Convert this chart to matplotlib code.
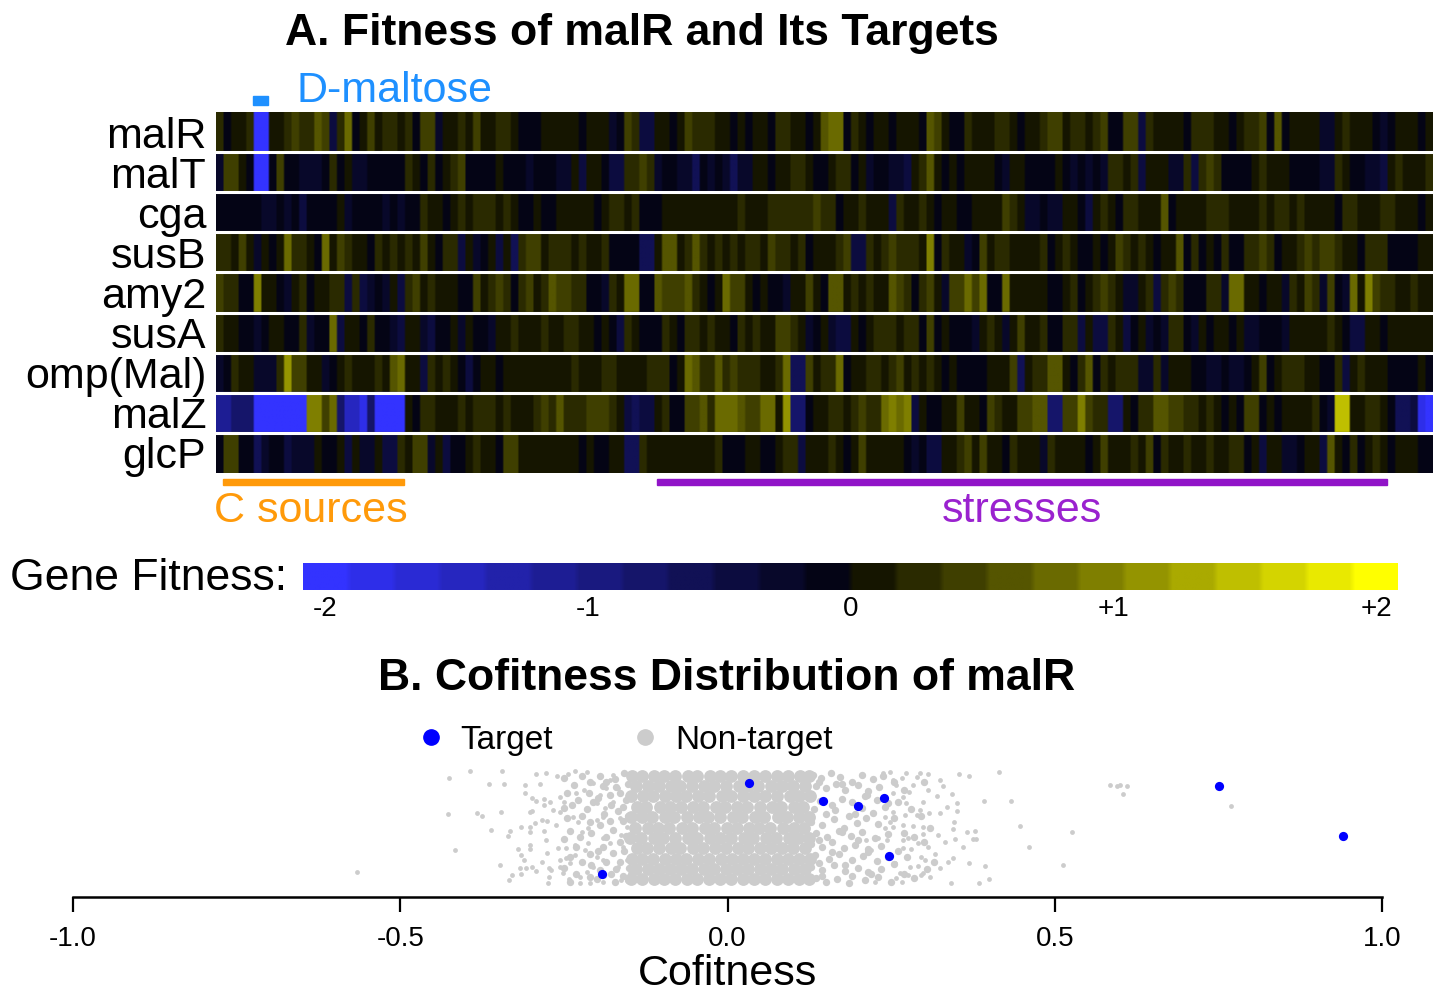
import matplotlib
matplotlib.use('Agg')
import matplotlib.pyplot as plt
import numpy as np
from matplotlib.colors import ListedColormap
from matplotlib.lines import Line2D

plt.rcParams['font.family'] = ['Liberation Sans', 'DejaVu Sans']

W, H = 1440, 993

genes = ['malR', 'malT', 'cga', 'susB', 'amy2', 'susA', 'omp(Mal)', 'malZ', 'glcP']

malR = [.25,-.1,.1,.1,.25,-2,-2,.1,.1,.25,
        .45,.25,.25,.6,.45,-.45,.25,.8,-.1,.1,
        .45,.1,.25,.25,.1,.25,-.1,.45,.45,-.25,
        .1,.1,.25,.1,.45,.1,.1,.25,.25,.1,
        -.1,-.1,-.1,.1,.1,.1,.1,.1,-.1,.1,
        .1,.1,-.25,-.1,.45,.25,-.45,-.45,.1,.1,
        -.1,.1,.45,.25,.25,.25,.1,.1,-.1,.1,
        -.1,.1,.1,-.1,.25,.25,.1,.1,-.1,.1,
        .6,.8,.8,-.1,.25,.1,-.1,.1,.1,-.1,
        .1,.1,.1,-.1,.6,.45,.1,-.1,-.1,.25,
        .1,.1,.1,.25,.25,.1,-.1,.1,.1,.25,
        .45,.45,.1,.25,.25,.1,.25,.45,-.1,-.1,
        .45,.45,-.45,.25,.1,.1,.1,.1,-.1,.25,
        .25,.25,.1,.1,-.1,.1,.25,.25,.45,-.1,
        .6,-.1,.1,.1,.1,.1,-.25,-.25,.1,.25,
        .1,.1,.1,-.1,-.25,-.1,.1,.1,.1,-.1,.1]
malT = [-.25,.45,.45,.1,-.1,-2,-2,-.1,.45,-.1,
        -.1,-.25,-.25,-.25,-.1,.25,-.1,.1,-.25,-.25,
        -.1,-.1,-.1,-.1,-.1,.25,.1,-.1,.25,-.1,
        .1,.25,.45,-.1,-.1,-.1,-.1,.1,-.1,-.1,
        -.1,-.25,-.1,-.1,-.1,-.25,-.25,.1,-.45,.1,
        .1,-.1,-.45,-.45,.25,.25,.45,.25,-.25,-.1,
        -.1,-.25,-.25,-.6,-.1,-.25,-.1,-.25,-.6,-.25,
        -.25,.1,.1,-.1,.1,.1,.25,.25,.1,-.1,
        -.1,.1,.25,.25,-.1,.1,-.25,-.1,-.1,-.25,
        -.25,-.45,.1,.25,.6,.1,-.1,.1,-.1,.1,
        .1,.1,.1,-.1,-.25,.1,.1,-.1,-.1,-.1,
        -.1,.1,-.1,-.25,-.1,-.25,-.1,-.25,.25,.25,
        .1,.25,-.45,.1,.1,.1,-.25,-.25,.25,-.45,
        .25,.45,.25,-.1,-.1,-.1,-.1,.1,.25,.1,
        .1,.1,-.1,-.1,-.1,-.1,-.25,-.25,.25,.1,
        -.1,-.1,-.25,-.25,-.45,.1,.25,.1,.1,.1,.25]
cga = [-.1,-.1,-.1,-.1,-.1,-.1,-.25,-.25,-.1,-.25,
       -.1,-.45,-.1,-.1,-.1,-.1,.1,-.25,-.1,-.1,
       -.1,-.1,-.25,-.1,-.25,-.1,-.1,.25,.1,.1,
       -.1,.1,.25,.1,.25,.25,.25,.1,.25,.1,
       -.1,-.1,.1,-.1,-.1,.1,.1,.1,.1,.1,
       -.1,.1,.25,.25,.1,.25,-.1,-.1,-.1,.1,
       .1,.1,.1,.1,.1,.1,.1,.1,.1,.25,
       .1,.1,.1,.25,.25,.25,.25,.25,.25,.45,
       .25,.25,-.1,.1,.1,.25,.1,.1,.1,-.45,
       .25,.1,.1,.25,.1,-.1,.1,.1,-.1,-.1,
       .1,.1,.1,.1,.45,.25,.1,-.25,-.25,-.1,
       -.25,-.25,.1,.1,-.1,-.45,.1,.25,.1,-.1,
       .25,.25,.1,.1,.1,.6,-.1,.1,.1,.1,
       .1,.25,.25,.25,.1,.1,.1,.1,.25,.1,
       .25,.25,.1,.25,.1,.1,.1,.1,-.1,.25,
       .25,.1,.1,.1,.25,.25,.1,.1,.1,-.1,.1]
susB = [.25,.25,.1,.45,.1,-.25,.1,-.1,.1,.8,
        .25,.25,.1,-.1,.8,.1,.45,.25,.1,.1,
        -.1,.25,.1,.25,.1,.25,.1,.45,.1,-.1,
        .25,.25,-.45,.1,-.25,-.1,.1,-.45,.1,-.6,
        .25,.45,.45,.1,.25,.25,.25,.1,.25,.1,
        .1,.25,-.1,-.1,-.1,-.1,-.6,-.6,.1,.6,
        .6,.1,.25,.6,.25,.1,.25,.1,.25,.1,
        .25,.25,.1,.45,.25,.25,.1,.25,-.1,.1,
        .1,.1,.25,.45,-.45,-.45,.25,.1,.25,.45,
        .25,.25,.25,.1,1.,-.1,.25,.1,.1,-.25,
        -.1,.45,.1,.25,.25,.1,.1,.1,.1,.25,
        -.1,.1,.25,.1,-.1,-.1,.1,-.1,.1,.45,
        .25,.1,.25,.1,-.1,.1,.1,.6,-.1,.25,
        -.1,.1,-.1,.25,-.1,-.1,.25,.25,.45,.25,
        -.1,.1,.1,.25,.45,.25,.45,.45,.25,.1,
        .1,-.1,.25,.25,.25,-.1,-.1,-.1,-.1,.1,.1]
amy2 = [.45,.25,.25,-.1,-.1,1.,.1,.1,-.1,-.25,
        .1,.25,-.1,.1,.1,.25,.25,-.45,.25,-.45,
        -.25,-.1,-.25,.1,-.45,.25,.45,.1,.25,.1,
        .1,.1,-.1,-.1,.45,.1,.25,.45,.25,-.1,
        .25,.45,.1,.25,.6,.45,.45,.25,.25,-.1,
        -.1,-.25,.25,.1,.8,.8,-.1,-.1,.6,.45,
        .45,.45,.6,.25,.1,-.1,.1,.8,.45,.45,
        .1,-.1,.1,-.1,-.1,-.25,.1,.1,.45,.1,
        -.1,.6,.6,.1,.25,.1,.25,.1,.1,.6,
        .45,.25,-.1,.25,.45,.1,-.25,.45,.45,.8,
        .45,.8,-.1,-.1,.8,.1,.1,.1,.1,.1,
        -.1,-.1,.1,.25,-.1,.1,.25,.45,.25,.1,
        -.25,-.25,.1,.25,-.45,.25,.45,.25,-.1,-.1,
        -.1,.25,.25,-.25,.8,.8,.1,.1,-.1,.1,
        .1,-.25,.25,.1,.45,.25,-.25,.45,-.1,-.25,
        .8,.1,1.,.45,.25,.25,.1,.1,.25,.1,.1]
susA = [.25,.1,.1,-.1,-.1,-.25,-.1,.1,.1,-.1,
        -.1,.25,-.25,-.1,-.1,.8,-.45,.1,.1,-.1,
        .25,-.1,-.1,-.25,-.45,.1,.1,-.25,-.45,-.1,
        -.1,.1,-.25,.1,-.1,-.1,-.25,.1,.1,.25,
        .1,.1,.1,.25,.1,.1,.25,.25,.1,.1,
        -.1,.1,-.1,-.45,.25,.1,-.1,-.1,-.1,.25,
        .1,-.1,.25,.25,.1,.25,.1,.1,-.1,.25,
        .1,.25,.1,.1,.45,.45,.25,.1,-.25,-.1,
        .1,-.25,-.45,-.45,.1,-.1,.1,.25,.25,.25,
        .1,.25,.25,-.1,.45,-.1,.1,-.1,-.1,-.1,
        -.25,.1,.25,.1,-.25,.1,.45,.1,.1,.25,
        -.1,-.1,.25,.25,-.45,.1,-.45,-.45,.25,.1,
        -.45,-.1,.1,-.25,-.1,-.25,.25,.25,-.1,-.25,
        .1,-.1,.1,.1,-.1,.1,-.25,-.25,-.1,-.1,
        -.1,-.25,.1,.1,.1,.1,.1,.25,.1,-.1,
        -.45,-.45,.1,.1,-.1,.1,.1,.1,.1,.1,.1]
ompMal = [-.25,-.1,.25,.1,.1,-.25,-.25,-.25,.25,1.1,
          .45,.45,.1,.1,-.25,-.1,.1,.25,.1,.1,
          .1,.25,.1,.6,.8,.1,.1,-.45,.25,.1,
          .25,.1,-.1,-.45,-.1,.1,.1,-.1,.1,.1,
          .1,.1,.1,.1,.1,.1,.1,.25,.1,.1,
          .1,.25,.25,.1,.1,.1,.1,.25,.25,.25,
          -.1,.1,.8,.6,.25,.25,.6,.25,.45,.25,
          .25,.25,.1,.1,.25,.8,-.6,-.6,.45,.1,
          .25,.25,.8,-.1,.1,.1,.25,.25,.1,.25,
          .45,.1,.25,.1,.25,.1,-.1,.1,-.1,-.1,
          -.1,-.1,.1,.1,.1,.45,-.6,.1,.25,.25,
          .6,.6,.1,-.1,.25,.6,-.1,.25,.1,.25,
          .25,.25,-.25,-.25,.25,-.25,.1,.1,.1,-.1,
          -.1,-.25,-.25,-.1,-.25,-.25,-.1,.1,.45,-.1,
          .1,.25,.25,.25,.1,.1,-.1,-.1,.25,-.45,
          .1,.25,.1,.1,.1,-.1,-.1,-.1,-.1,.1,-.1]
malZ = [-1.1,-1.1,-.8,-.8,-.8,-2,-2,-2,-2,-2,
        -2,-2,1.,1.,.45,.8,-.8,-1.5,-1.5,-1.8,
        -.8,-2,-2,-2,-2,.1,-.1,.25,.25,.1,
        .1,.1,.25,.1,.25,.25,.25,.1,.25,.1,
        .1,.1,.25,.45,.25,.6,.25,.25,.25,.45,
        .45,.45,.25,.1,-.45,-.6,-.45,-.45,.1,.25,
        -.1,-.1,.45,.45,.6,.25,.8,.8,.8,.6,
        .45,.45,.8,.8,.1,1.1,-.8,-.8,-.1,.1,
        .1,.25,.25,.1,.25,.45,.25,.25,.8,1.,
        .8,1.,-.45,.1,-.1,-.1,.1,.1,.45,.1,
        .1,-.1,.45,.25,.1,.1,.45,.45,.6,.6,
        -.8,-.8,.45,.45,1.,.45,.25,.25,-.8,-.8,
        .1,-.1,.25,.25,.6,.6,.45,.45,.25,.25,
        .1,.25,.1,-.1,.1,-.1,.45,.45,-.1,.1,
        -.1,.1,.1,.1,.1,.25,-.1,-.25,1.5,1.5,
        .1,.1,.25,.25,.1,-.1,-.6,-.6,-.45,-1.8,-2]
glcP = [-.1,.45,.45,-.1,-.1,-.6,-.25,-.1,-.1,-.45,
        -.25,-.25,-.25,.1,-.1,-.1,.1,-.45,.1,-.25,
        -.25,.1,-.45,-.45,.25,.1,.45,.45,-.25,.1,
        -.45,-.1,-.1,.1,.25,.1,.1,-.1,.45,.45,
        .1,.1,.1,.1,.1,.1,.1,.1,-.1,.1,
        -.1,-.1,.1,.1,-.6,-.6,.25,.1,.1,.1,
        .1,.1,.1,.1,.1,.1,.25,-.1,-.1,-.1,
        .1,.1,-.1,-.1,.1,.25,.25,-.45,.1,.1,
        .1,.25,.1,-.1,.1,.45,.1,.1,.1,.1,
        .1,-.1,-.25,-.1,-.45,-.45,.1,.1,.25,.45,
        .1,.45,.1,.1,-.1,.25,.1,.1,.1,-.25,
        .25,.1,.1,.1,.1,-.1,.1,.45,.1,.1,
        .1,.25,.1,.45,-.1,.25,.1,.1,.25,.1,
        .1,.25,.1,.1,.25,.25,-.1,.1,-.45,.1,
        .1,-.25,-.25,-.1,.1,.1,-.45,.6,.1,-.1,
        .25,-.1,.1,.25,.1,-.1,.1,.1,.1,-.1,-.1]

cbar_ticks = [-2, -1, 0, 1, 2]
cbar_labels = ['-2', '-1', '0', '+1', '+2']

target_cof = [.033, .146, .199, .239, .247, -.192, .751, .941]
target_jit = [.89, .73, .69, .76, .25, .10, .86, .43]

# sparse non-target genes, read off point by point
sparse_cof = [-.566,-.426,-.393,-.345,-.427,-.417,-.383,-.375,-.346,-.364,-.341,-.361,-.348,-.334,-.329,-.336,
              -.333,-.315,-.301,-.302,-.294,-.283,-.276,-.301,-.298,-.28,-.278,-.262,-.309,-.31,-.286,-.292,
              -.278,-.26,-.244,-.233,-.215,-.299,-.292,-.28,-.28,-.271,-.256,-.25,-.266,-.256,-.32,-.315,
              -.311,-.302,-.302,-.284,-.276,-.259,-.246,-.233,-.317,-.308,-.299,-.293,-.316,-.273,-.269,-.273,
              -.274,-.251,-.242,-.256,-.246,-.256,-.241,-.233,-.226,-.225,-.21,-.215,-.205,-.19,-.213,-.218,
              -.2,-.19,-.236,-.228,-.223,-.213,-.2,-.19,-.19,-.18,-.175,-.167,-.162,-.231,-.22,-.205,
              -.195,-.2,-.187,-.175,-.175,-.18,-.167,-.185,-.164,-.154,-.162,-.159,-.154,-.149,
              .415,.354,.369,.392,.433,.447,.526,.46,.513,.399,.385,.394,.369,.342,.309,.324,
              .337,.345,.299,.36,.348,.332,.322,.299,.375,.379,.366,.378,.345,.346,.324,.308,
              .336,.35,.35,.343,.32,.306,.299,.33,.324,.307,.294,.289,.284,.278,.266,.253,
              .238,.248,.273,.258,.268,.253,.273,.294,.289,.271,.253,.24,.248,.268,.284,.299,
              .24,.253,.268,.276,.291,.307,.281,.268,.317,.296,.301,.279,.291,.263,.276,.296,
              .266,.258,.256,.225,.243,.23,.22,.212,
              .585,.595,.6,.61,.605,.77]
sparse_jit = [.116,.93,.99,.99,.615,.304,.629,.6,.632,.878,.878,.478,.174,.043,.087,.426,
              .472,.507,.507,.464,.536,.565,.559,.638,.646,.472,.391,.522,.867,.797,.878,.965,
              .977,.951,.965,.991,.986,.754,.733,.745,.695,.725,.768,.725,.652,.638,.31,.26,
              .222,.347,.31,.203,.275,.319,.319,.347,.145,.145,.153,.124,.092,.145,.13,.066,
              .014,.101,.049,.217,.231,.159,.188,.26,.072,.02,.014,.116,.159,.028,.362,.304,
              .246,.217,.594,.551,.464,.493,.565,.594,.406,.362,.275,.159,.043,.797,.826,.884,
              .783,.71,.667,.725,.957,.913,.841,.841,.579,.507,.435,.333,.217,.101,
              .986,.962,.948,.733,.727,.513,.461,.33,.177,.049,.014,.165,.188,.02,.067,.145,
              .203,.237,.101,.333,.397,.371,.435,.443,.4,.397,.461,.47,.487,.548,.623,.629,
              .681,.71,.646,.791,.777,.826,.725,.861,.913,.962,.977,.942,.87,.812,.928,.913,
              .971,.986,.971,.87,.768,.797,.71,.652,.609,.609,.638,.594,.551,.522,.513,.507,
              .493,.507,.391,.406,.362,.327,.31,.319,.267,.246,.217,.159,.165,.101,.087,.087,
              .029,.058,.188,.029,.391,.406,.304,.391,
              .87,.86,.87,.86,.79,.69]

# shoulders of the cloud, where points start to touch each other
mid_cof = [.13,.143,.158,.172,.19,.205,.222,.238, .135,.15,.166,.18,.2,.215,.232,
           .128,.142,.175,.19,.213,.228,.245, .132,.15,.165,.185,.205,.222,.24,
           .127,.145,.163,.178,.198,.212,.23, .135,.152,.17,.188,.205,.225,.245,
           .128,.145,.16,.178,.195,.215,.235, .134,.155,.17,.19,.207,.228,.245,
           .128,.145,.163,.18,.2,.215,.235, .135,.15,.168,.185,.21,.23,.25,
           -.195,-.172,-.158,-.19,-.165,-.152,-.198,-.178,-.155,-.188,-.168,-.152,-.195,-.175,-.155,
           -.185,-.165,-.198,-.175,-.158,-.185,-.165,-.15,-.195,-.178,-.16,-.2,-.172,-.152,
           -.25,-.235,-.222,-.21,-.245,-.228,-.212,-.25,-.238,-.215,-.205,-.245,-.222,-.21,-.24,-.225,-.208,-.25,
           -.232,-.21,-.24,-.222,-.208,-.25,-.232,-.21,-.24,-.185,-.17,-.18,-.16,-.19,-.17,-.19,-.16,-.18,
           .255,.27,.26,.28,.255,.27,.285,.26,.275,.255,.27,.285,.3,.295,.31,.3,.315,.305,
           .14,.175,.21,.16,.195,.175,.14,.2,.16,.215,.14,.18,.22,.145,.19]
mid_jit = [.96,.93,.97,.94,.9,.96,.92,.95, .86,.84,.88,.83,.87,.82,.85,
           .76,.73,.75,.72,.78,.74,.71, .66,.62,.65,.6,.67,.63,.68,
           .55,.52,.57,.5,.54,.58,.53, .45,.42,.47,.43,.46,.41,.44,
           .36,.33,.37,.32,.35,.31,.34, .26,.23,.27,.22,.25,.21,.24,
           .16,.13,.17,.12,.15,.11,.14, .06,.03,.05,.02,.04,.07,.03,
           .95,.92,.97,.86,.8,.88,.76,.7,.74,.62,.64,.6,.52,.48,.43,
           .42,.37,.3,.28,.3,.2,.2,.15,.13,.1,.08,.05,.03,.04,
           .93,.87,.95,.9,.8,.74,.8,.67,.7,.66,.72,.58,.6,.55,.47,.42,.45,.4,
           .33,.27,.24,.2,.17,.15,.1,.07,.03,.9,.85,.56,.68,.33,.14,.09,.56,.78,
           .9,.83,.72,.66,.58,.45,.42,.3,.24,.18,.1,.06,.9,.6,.5,.37,.2,.14,
           .9,.88,.77,.7,.62,.46,.39,.39,.29,.29,.19,.17,.1,.08,.08]

# solid core of the cloud: too many points to read one by one, so one hand placed
# strip per jitter level, drawn with fatter dots
core_jit = [.05, .14, .23, .32, .41, .50, .59, .68, .77, .86, .95]
core_cof = [
    [-.148,-.131,-.113,-.097,-.08,-.062,-.046,-.028,-.011,.006,.024,.04,.058,.075,.092,.11,.124],
    [-.14,-.122,-.105,-.088,-.071,-.054,-.036,-.02,-.002,.015,.032,.05,.066,.084,.101,.118],
    [-.146,-.13,-.114,-.096,-.079,-.063,-.045,-.029,-.01,.007,.023,.041,.057,.076,.093,.109,.126],
    [-.138,-.123,-.104,-.087,-.072,-.053,-.037,-.019,-.003,.016,.031,.049,.067,.083,.1,.119],
    [-.149,-.132,-.112,-.098,-.08,-.061,-.047,-.027,-.012,.005,.025,.039,.059,.074,.094,.108,.125],
    [-.141,-.121,-.106,-.089,-.07,-.055,-.035,-.021,-.001,.014,.033,.048,.065,.085,.102,.117],
    [-.147,-.13,-.115,-.095,-.081,-.062,-.044,-.03,-.011,.008,.022,.042,.056,.077,.091,.11,.124],
    [-.139,-.124,-.103,-.088,-.071,-.052,-.038,-.018,-.004,.015,.03,.05,.068,.082,.101,.116],
    [-.148,-.129,-.114,-.096,-.078,-.064,-.045,-.028,-.009,.006,.024,.04,.058,.075,.095,.109,.126],
    [-.14,-.122,-.105,-.086,-.072,-.054,-.036,-.02,-.002,.017,.032,.047,.066,.084,.1,.118],
    [-.146,-.131,-.113,-.097,-.08,-.06,-.046,-.027,-.011,.005,.023,.041,.057,.076,.092,.111,.125],
]

fig = plt.figure(figsize=(W / 100, H / 100), dpi=100)


def box(x0, y0, x1, y1):
    # axes from a pixel box, y counted from the top
    return fig.add_axes([x0 / W, 1 - y1 / H, (x1 - x0) / W, (y1 - y0) / H])


def label(x, y, s, **kw):
    kw.setdefault('ha', 'left')
    kw.setdefault('va', 'center')
    fig.text(x / W, 1 - y / H, s, **kw)


# 24 flat colour steps, blue below 0 and yellow above
steps = np.arange(12, 0, -1) / 12
colors = [(.2 * s, .2 * s, s) for s in steps] + [(s, s, 0) for s in steps[::-1]]
cmap = ListedColormap(colors)
vlim = 2.083

# A. heatmap, cells repeated so the smoothing only softens their edges
ax = box(216, 112, 1433, 473)
fitness = np.array([malR, malT, cga, susB, amy2, susA, ompMal, malZ, glcP])
fine = np.repeat(np.repeat(fitness, 4, axis=1), 12, axis=0)
ax.imshow(fine, aspect='auto', cmap=cmap, vmin=-vlim, vmax=vlim, interpolation='bilinear',
          interpolation_stage='rgba', extent=[-.5, fitness.shape[1] - .5, len(genes) - .5, -.5])
for i in range(1, len(genes)):
    ax.axhline(i - .5, color='white', lw=2.2)
ax.set_yticks(range(len(genes)))
ax.set_yticklabels(genes, fontsize=31)
ax.set_xticks([])
ax.tick_params(axis='y', length=0, pad=7)
for s in ax.spines.values():
    s.set_visible(False)

label(642, 33, 'A. Fitness of malR and Its Targets', fontsize=32, fontweight='bold', ha='center')
label(296, 91, 'D-maltose', fontsize=31, color='#1E90FF')
label(214, 511, 'C sources', fontsize=31, color='#FF9A0A')
label(1022, 511, 'stresses', fontsize=31, color='#9A22CF', ha='center')
fig.patches.append(plt.Rectangle((253 / W, 1 - 105 / H), 15 / W, 9 / H, color='#1E90FF', transform=fig.transFigure))
fig.patches.append(plt.Rectangle((223 / W, 1 - 485 / H), 181 / W, 6 / H, color='#FF9A0A', transform=fig.transFigure))
fig.patches.append(plt.Rectangle((657 / W, 1 - 485 / H), 730 / W, 6 / H, color='#9114C8', transform=fig.transFigure))

# colour key
cax = box(303, 563, 1398, 590)
key = np.repeat(np.linspace(-vlim, vlim, 24), 8)[None, :]
cax.imshow(key, aspect='auto', cmap=cmap, vmin=-vlim, vmax=vlim,
           extent=[-vlim, vlim, 0, 1], interpolation='bilinear', interpolation_stage='rgba')
cax.set_yticks([])
cax.set_xticks(cbar_ticks)
cax.set_xticklabels(cbar_labels, fontsize=20)
cax.tick_params(axis='x', length=0, pad=4)
for s in cax.spines.values():
    s.set_visible(False)
label(10, 579, 'Gene Fitness:', fontsize=32)

# B. cofitness strip
ax2 = box(73, 760, 1382, 897)
gray = '#CCCCCC'
ax2.scatter(sparse_cof, sparse_jit, s=12, color=gray, lw=0, zorder=2)
ax2.scatter(mid_cof, mid_jit, s=28, color=gray, lw=0, zorder=2)
for jit, cofs in zip(core_jit, core_cof):
    ax2.scatter(cofs, [jit] * len(cofs), s=85, color=gray, lw=0, zorder=2)
ax2.scatter(target_cof, target_jit, s=44, color='#0000FF', lw=0, zorder=3)
ax2.set_xlim(-1, 1)
ax2.set_ylim(-.104, 1.087)
ax2.set_yticks([])
ax2.set_xticks([-1, -.5, 0, .5, 1])
ax2.set_xticklabels(['-1.0', '-0.5', '0.0', '0.5', '1.0'], fontsize=20)
ax2.tick_params(axis='x', length=11, width=1.6, pad=10)
for side in ['top', 'left', 'right']:
    ax2.spines[side].set_visible(False)
ax2.spines['bottom'].set_linewidth(1.8)
ax2.patch.set_alpha(0)
ax2.set_xlabel('Cofitness', fontsize=31, labelpad=1)

label(727, 679, 'B. Cofitness Distribution of malR', fontsize=32, fontweight='bold', ha='center')

handles = [Line2D([], [], ls='', marker='o', ms=11, color='#0000FF', label='Target'),
           Line2D([], [], ls='', marker='o', ms=11, color=gray, label='Non-target')]
fig.legend(handles=handles, loc='center left', bbox_to_anchor=(414 / W, 1 - 740 / H), ncol=2, frameon=False,
           fontsize=24, handlelength=1, handletextpad=.4, columnspacing=2.27, borderpad=0, borderaxespad=0)

fig.savefig('out.png', dpi=100)
